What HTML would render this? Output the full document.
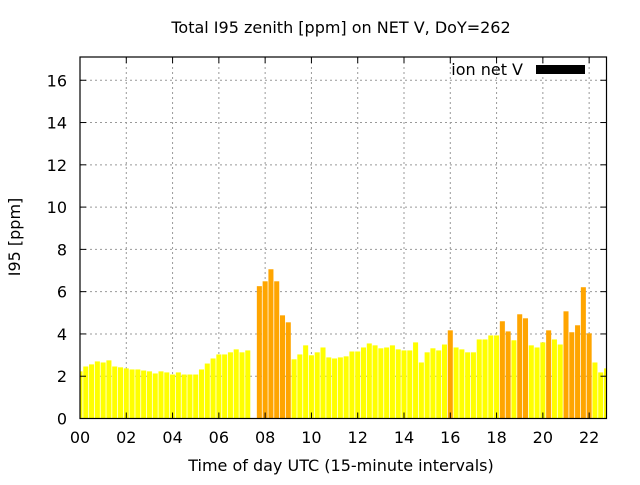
<!DOCTYPE html>
<html><head><meta charset="utf-8"><style>
body{margin:0;background:#fff;}
svg text{font-family:"DejaVu Sans","Liberation Sans",sans-serif;font-size:16px;fill:#000;}
</style></head><body>
<svg id="chart" width="640" height="480" xmlns="http://www.w3.org/2000/svg">
<defs><clipPath id="pc"><rect x="80" y="57" width="526.5" height="361.5"/></clipPath></defs>
<g id="grid"></g>
<g id="bars" clip-path="url(#pc)"></g>
<rect x="80" y="57" width="526.5" height="361.5" fill="none" stroke="#000" stroke-width="1.2"/>
<g id="ticks"></g>
<text x="341" y="33" text-anchor="middle" font-size="15">Total I95 zenith [ppm] on NET V, DoY=262</text>
<text x="341" y="471" text-anchor="middle">Time of day UTC (15-minute intervals)</text>
<text transform="translate(20,237) rotate(-90)" text-anchor="middle">I95 [ppm]</text>
<text x="523" y="75" text-anchor="end">ion net V</text>
<rect x="536" y="65" width="49" height="9" fill="#000"/>
</svg>
<script>
const values = [2.23,2.46,2.56,2.70,2.65,2.75,2.46,2.42,2.37,2.32,2.32,2.27,2.23,2.13,2.23,2.18,2.08,2.18,2.08,2.08,2.08,2.32,2.60,2.84,3.03,3.03,3.13,3.27,3.13,3.22,0,6.26,6.49,7.06,6.49,4.88,4.55,2.80,3.03,3.46,2.99,3.13,3.36,2.89,2.84,2.89,2.94,3.17,3.17,3.36,3.55,3.46,3.32,3.36,3.46,3.27,3.22,3.22,3.60,2.65,3.13,3.32,3.22,3.50,4.17,3.36,3.27,3.13,3.13,3.74,3.74,3.93,3.93,4.60,4.12,3.70,4.93,4.74,3.46,3.36,3.60,4.17,3.74,3.50,5.07,4.08,4.41,6.21,4.03,2.65,2.18,2.37];
const xTicks = ["00","02","04","06","08","10","12","14","16","18","20","22"];
const yTicks = [0,2,4,6,8,10,12,14,16];
const threshold = 4;
const X0=80,X1=606.5,Y0=418.5,Y1=57,XMAX=22.75,YMAX=17.1;
const xs=h=>X0+h/XMAX*(X1-X0);
const ys=v=>Y0-v/YMAX*(Y0-Y1);
const NS="http://www.w3.org/2000/svg";
function mk(t,a,p){const e=document.createElementNS(NS,t);for(const k in a)e.setAttribute(k,a[k]);p.appendChild(e);return e;}
const grid=document.getElementById('grid'),ticks=document.getElementById('ticks'),bars=document.getElementById('bars');
xTicks.forEach((lab,i)=>{const x=xs(i*2);
 if(i>0){const g=mk('line',{x1:x,x2:x,y1:Y1,y2:Y0,stroke:'#999','stroke-dasharray':'2,3'},grid);
 
 }
 mk('line',{x1:x,x2:x,y1:Y0,y2:Y0-6,stroke:'#000'},ticks);
 mk('line',{x1:x,x2:x,y1:Y1,y2:Y1+6,stroke:'#000'},ticks);
 const t=mk('text',{x:x,y:443,'text-anchor':'middle'},ticks);t.textContent=lab;
 
 });
yTicks.forEach(v=>{const y=ys(v);
 if(v>0){const g=mk('line',{x1:X0,x2:X1,y1:y,y2:y,stroke:'#999','stroke-dasharray':'2,3'},grid);
 
 }
 mk('line',{x1:X0,x2:X0+6,y1:y,y2:y,stroke:'#000'},ticks);
 mk('line',{x1:X1,x2:X1-6,y1:y,y2:y,stroke:'#000'},ticks);
 const t=mk('text',{x:67,y:y+6,'text-anchor':'end'},ticks);t.textContent=v;
 
 });
const bw=(xs(0.25)-xs(0))*0.87;
values.forEach((v,i)=>{if(!v)return;const cx=xs(i*0.25);
 const r=mk('rect',{x:cx-bw/2,y:ys(v),width:bw,height:Y0-ys(v),fill:v>threshold?'#ffa500':'#ffff00'},bars);
 
 });
</script>
</body></html>
